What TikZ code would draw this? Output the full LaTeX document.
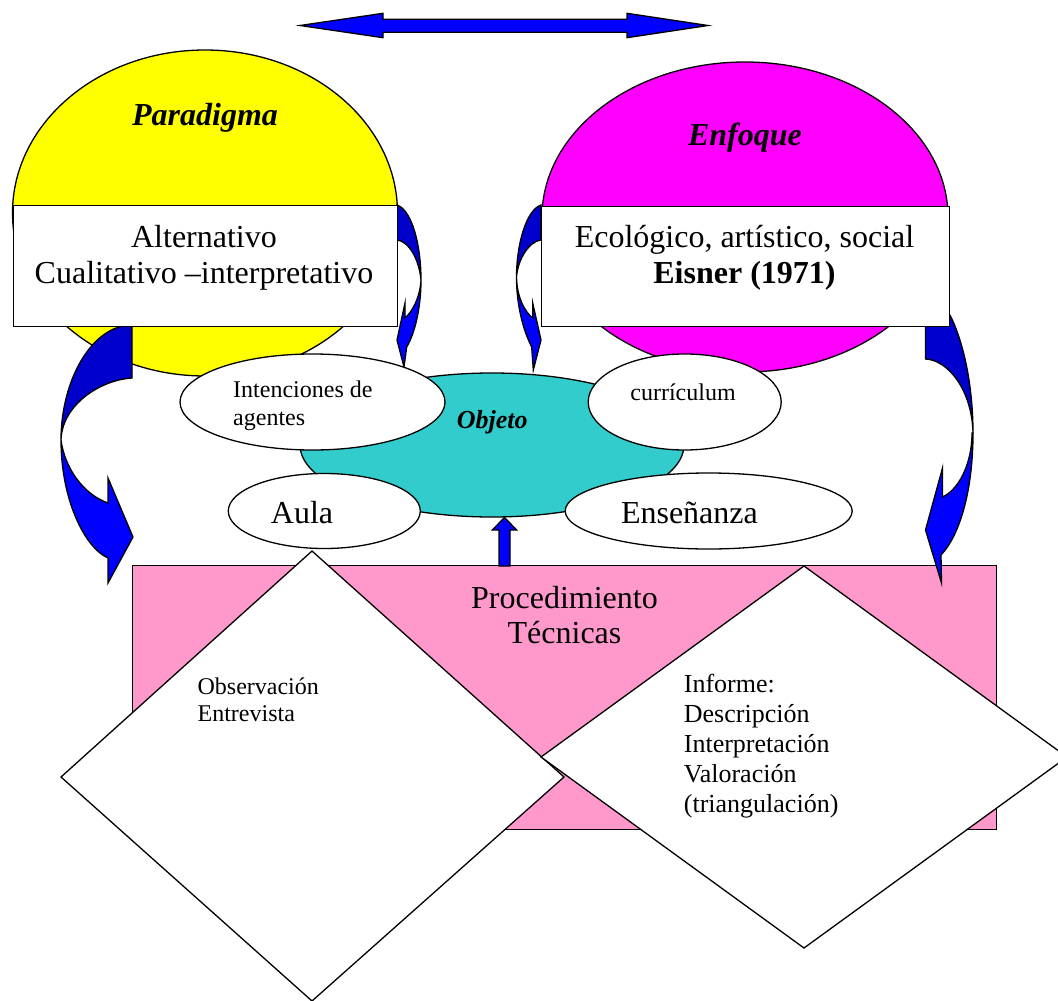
\documentclass[tikz,border=0pt]{standalone}
\usepackage{fontspec}
\setmainfont{Liberation Serif}
\usetikzlibrary{shapes.geometric}
\definecolor{paryellow}{HTML}{FFFF00}
\definecolor{enfmagenta}{HTML}{FF00FF}
\definecolor{objcyan}{HTML}{33CCCC}
\definecolor{procpink}{HTML}{FF99CC}
\definecolor{arrowdark}{HTML}{0000CC}
\definecolor{arrowblue}{HTML}{0000FF}
\begin{document}
\begin{tikzpicture}[x=1pt,y=-1pt,
  outline/.style={draw=black,line width=1.3pt,line join=miter},
  blob/.style={ellipse,outline,inner sep=0pt},
  panel/.style={rectangle,outline,fill=white,inner sep=0pt,anchor=north west},
  txt/.style={inner sep=0pt,text=black},
  bigtxt/.style={txt,font=\fontsize{32}{36}\selectfont,align=center},
  headtxt/.style={txt,font=\fontsize{32}{36}\selectfont\bfseries\itshape},
  smalltxt/.style={txt,font=\fontsize{24}{27.5}\selectfont,align=left},
  bandtop/.style={outline,fill=arrowdark},
  bandlow/.style={outline,fill=arrowblue}]

\useasboundingbox (0,0) rectangle (1058,1001);

% double arrow along the top
\path[outline,fill=arrowblue] (300,25.5) -- (383,13.3) -- (383,19.3) -- (627,19.3)
  -- (627,13.3) -- (708,25.5) -- (627,37.7) -- (627,32.3) -- (383,32.3)
  -- (383,37.7) -- cycle;

% paradigm and approach discs
\node[blob,fill=paryellow,minimum width=385pt,minimum height=326pt] (paradisc) at (205,213) {};
\node[blob,fill=enfmagenta,minimum width=406pt,minimum height=310pt] (enfdisc) at (745,217) {};

% procedure panel
\node[panel,fill=procpink,minimum width=864pt,minimum height=264pt] (proc) at (132,565) {};

% large curled arrows on both sides
\path[bandtop] (132,325) -- (132,378) .. controls (100,380) and (62,405) .. (61,440)
  .. controls (61,380) and (92,325) .. (132,325) -- cycle;
\path[bandlow] (61,440) .. controls (61,500) and (85,548) .. (108,558) -- (108,583)
  -- (133,537) -- (108,478) -- (108,503) .. controls (85,495) and (65,470) .. (61,440) -- cycle;

\path[bandtop] (925.5,318) -- (950,315) .. controls (965,345) and (973,390) .. (973,433)
  .. controls (972,390) and (948,360) .. (925.5,359) -- cycle;
\path[bandlow] (973,433) .. controls (973,490) and (960,535) .. (941,555) -- (941.5,583)
  -- (925.5,530) -- (942.5,468) -- (942.5,497) .. controls (958,490) and (972,465) .. (972,433) -- cycle;

% small curled arrows beside the boxes
\path[bandtop] (397,205) .. controls (412,210) and (421,245) .. (421,280)
  .. controls (419,258) and (408,241) .. (397,240) -- cycle;
\path[bandlow] (421,280) .. controls (421,310) and (414,335) .. (406.7,347) -- (404,367)
  -- (397,340) -- (405,303) -- (405,318) .. controls (412,312) and (420,298) .. (421,280) -- cycle;

\path[bandtop] (541,205) .. controls (526,210) and (516.5,245) .. (516.5,277)
  .. controls (518,258) and (530,241) .. (541,240) -- cycle;
\path[bandlow] (516.5,277) .. controls (516.5,305) and (523,330) .. (531.7,347) -- (533.3,370)
  -- (541,340) -- (532.7,303) -- (532.7,318) .. controls (525,312) and (517,298) .. (516.5,277) -- cycle;

% text boxes
\node[panel,minimum width=384pt,minimum height=120.7pt] (altbox) at (12.7,205) {};
\node[panel,minimum width=408pt,minimum height=120pt] (ecobox) at (541,205.7) {};

% object ellipse and its satellites
\node[blob,fill=objcyan,minimum width=384pt,minimum height=144pt] (obj) at (492,445) {};
\node[blob,fill=white,minimum width=265pt,minimum height=96pt] (inten) at (312.5,402) {};
\node[blob,fill=white,minimum width=193pt,minimum height=96pt] (curr) at (684.7,402) {};
\node[blob,fill=white,minimum width=192pt,minimum height=75pt] (aula) at (324.3,511) {};
\node[blob,fill=white,minimum width=287pt,minimum height=76pt] (ens) at (708.7,511) {};

% arrow from the panel up to the object
\path[outline,fill=arrowblue] (499,566) -- (499,530) -- (492.3,530) -- (504.5,517.5)
  -- (516.7,530) -- (510,530) -- (510,566) -- cycle;

% technique diamonds
\path[outline,fill=white] (312,551) -- (564,777) -- (312,1001) -- (61,777) -- cycle;
\path[outline,fill=white] (804,566) -- (1067,757) -- (804,948) -- (541,757) -- cycle;

% labels
\node[headtxt] (paratitle) at (205,118) {Paradigma};
\node[headtxt] (enftitle) at (745,138) {Enfoque};
\node[bigtxt] (alttext) at (204,258) {Alternativo\\Cualitativo –interpretativo};
\node[bigtxt] (ecotext) at (744.5,258) {Ecológico, artístico, social\\\textbf{Eisner (1971)}};
\node[txt,font=\fontsize{26}{30}\selectfont\bfseries\itshape] (objtext) at (492.3,422) {Objeto};
\node[smalltxt,anchor=west] (intentext) at (233,406) {Intenciones de\\agentes};
\node[smalltxt] (currtext) at (683,392) {currículum};
\node[bigtxt] (aulatext) at (302,513) {Aula};
\node[bigtxt] (enstext) at (689.4,513) {Enseñanza};
\node[txt,font=\fontsize{32}{35}\selectfont,align=center] (proctext) at (564.5,615) {Procedimiento\\Técnicas};
\node[smalltxt,anchor=west] (obstext) at (197.4,700) {Observación\\Entrevista};
\node[txt,font=\fontsize{26}{30}\selectfont,align=left,anchor=west] (inftext) at (683.7,746)
  {Informe:\\Descripción\\Interpretación\\Valoración\\(triangulación)};
\end{tikzpicture}
\end{document}
